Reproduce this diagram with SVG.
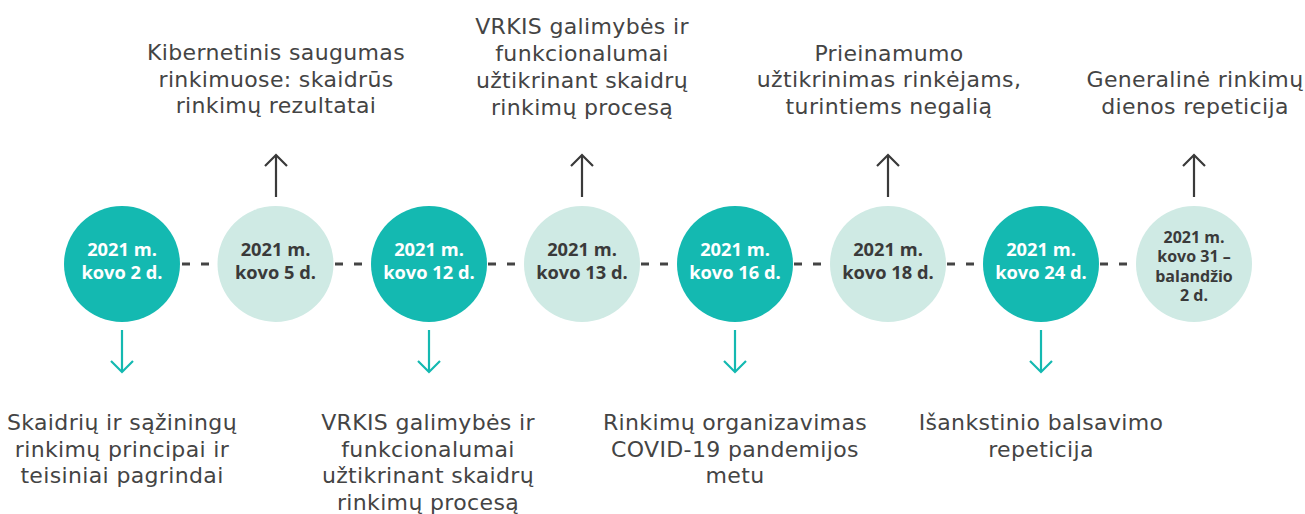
<svg xmlns="http://www.w3.org/2000/svg" width="1305" height="514" viewBox="0 0 1305 514">
<defs>
<style>
.bg{fill:#ffffff}
.dark{fill:#14b9b1}
.light{fill:#cfeae4}
.dt{font-family:"Open Sans","Liberation Sans",sans-serif;font-weight:700;font-size:18.3px;text-anchor:middle}
.dt8{font-family:"Open Sans","Liberation Sans",sans-serif;font-weight:700;font-size:16px;text-anchor:middle;fill:#3a3a3a}
.wt{fill:#ffffff}
.kt{fill:#3a3a3a}
.lbl{font-family:"DejaVu Sans","Open Sans",sans-serif;font-size:22px;letter-spacing:0.35px;fill:#444444;text-anchor:middle}
.dash{stroke:#444444;stroke-width:2.8;stroke-dasharray:8 11;fill:none}
.up{stroke:#3a3a3a;stroke-width:2.2;fill:none;stroke-linecap:butt}
.down{stroke:#14b9b1;stroke-width:2.2;fill:none}
</style>
</defs>
<rect class="bg" x="0" y="0" width="1305" height="514"/>
<g id="connectors">
<line class="dash" x1="182" y1="264" x2="217" y2="264"/>
<line class="dash" x1="335" y1="264" x2="370" y2="264"/>
<line class="dash" x1="488" y1="264" x2="523" y2="264"/>
<line class="dash" x1="641" y1="264" x2="676" y2="264"/>
<line class="dash" x1="794" y1="264" x2="829" y2="264"/>
<line class="dash" x1="947" y1="264" x2="982" y2="264"/>
<line class="dash" x1="1100" y1="264" x2="1135" y2="264"/>
<g class="up">
<line x1="276" y1="197" x2="276" y2="155"/><polyline points="265,166 276,155 287,166"/>
<line x1="582" y1="197" x2="582" y2="155"/><polyline points="571,166 582,155 593,166"/>
<line x1="888" y1="197" x2="888" y2="155"/><polyline points="877,166 888,155 899,166"/>
<line x1="1194" y1="197" x2="1194" y2="155"/><polyline points="1183,166 1194,155 1205,166"/>
</g>
<g class="down">
<line x1="122" y1="330" x2="122" y2="372"/><polyline points="111,361 122,372 133,361"/>
<line x1="429" y1="330" x2="429" y2="372"/><polyline points="418,361 429,372 440,361"/>
<line x1="735" y1="330" x2="735" y2="372"/><polyline points="724,361 735,372 746,361"/>
<line x1="1041" y1="330" x2="1041" y2="372"/><polyline points="1030,361 1041,372 1052,361"/>
</g>
</g>
<g id="n1">
<circle class="dark" cx="122" cy="264" r="58"/>
<text class="dt wt" x="122" y="256">2021 m.</text>
<text class="dt wt" x="122" y="279">kovo 2 d.</text>
<text class="lbl" x="122" y="430">Skaidrių ir sąžiningų</text>
<text class="lbl" x="122" y="456.6">rinkimų principai ir</text>
<text class="lbl" x="122" y="483.2">teisiniai pagrindai</text>
</g>
<g id="n2">
<circle class="light" cx="275.5" cy="264" r="58"/>
<text class="dt kt" x="275.5" y="256">2021 m.</text>
<text class="dt kt" x="275.5" y="279">kovo 5 d.</text>
<text class="lbl" x="276" y="60">Kibernetinis saugumas</text>
<text class="lbl" x="276" y="86.5">rinkimuose: skaidrūs</text>
<text class="lbl" x="276" y="113">rinkimų rezultatai</text>
</g>
<g id="n3">
<circle class="dark" cx="429" cy="264" r="58"/>
<text class="dt wt" x="429" y="256">2021 m.</text>
<text class="dt wt" x="429" y="279">kovo 12 d.</text>
<text class="lbl" x="428" y="430">VRKIS galimybės ir</text>
<text class="lbl" x="428" y="456.6">funkcionalumai</text>
<text class="lbl" x="428" y="483.2">užtikrinant skaidrų</text>
<text class="lbl" x="428" y="509.8">rinkimų procesą</text>
</g>
<g id="n4">
<circle class="light" cx="582" cy="264" r="58"/>
<text class="dt kt" x="582" y="256">2021 m.</text>
<text class="dt kt" x="582" y="279">kovo 13 d.</text>
<text class="lbl" x="582" y="33.5">VRKIS galimybės ir</text>
<text class="lbl" x="582" y="60.5">funkcionalumai</text>
<text class="lbl" x="582" y="87.5">užtikrinant skaidrų</text>
<text class="lbl" x="582" y="114.5">rinkimų procesą</text>
</g>
<g id="n5">
<circle class="dark" cx="735" cy="264" r="58"/>
<text class="dt wt" x="735" y="256">2021 m.</text>
<text class="dt wt" x="735" y="279">kovo 16 d.</text>
<text class="lbl" x="735" y="430">Rinkimų organizavimas</text>
<text class="lbl" x="735" y="456.6">COVID-19 pandemijos</text>
<text class="lbl" x="735" y="483.2">metu</text>
</g>
<g id="n6">
<circle class="light" cx="888" cy="264" r="58"/>
<text class="dt kt" x="888" y="256">2021 m.</text>
<text class="dt kt" x="888" y="279">kovo 18 d.</text>
<text class="lbl" x="889" y="60.5">Prieinamumo</text>
<text class="lbl" x="889" y="87">užtikrinimas rinkėjams,</text>
<text class="lbl" x="889" y="113.5">turintiems negalią</text>
</g>
<g id="n7">
<circle class="dark" cx="1041" cy="264" r="58"/>
<text class="dt wt" x="1041" y="256">2021 m.</text>
<text class="dt wt" x="1041" y="279">kovo 24 d.</text>
<text class="lbl" x="1041" y="430">Išankstinio balsavimo</text>
<text class="lbl" x="1041" y="456.6">repeticija</text>
</g>
<g id="n8">
<circle class="light" cx="1194" cy="264" r="58"/>
<text class="dt8" x="1194" y="242.5">2021 m.</text>
<text class="dt8" x="1194" y="262">kovo 31 –</text>
<text class="dt8" x="1194" y="281.5">balandžio</text>
<text class="dt8" x="1194" y="301">2 d.</text>
<text class="lbl" x="1195" y="87">Generalinė rinkimų</text>
<text class="lbl" x="1195" y="113.5">dienos repeticija</text>
</g>
</svg>
